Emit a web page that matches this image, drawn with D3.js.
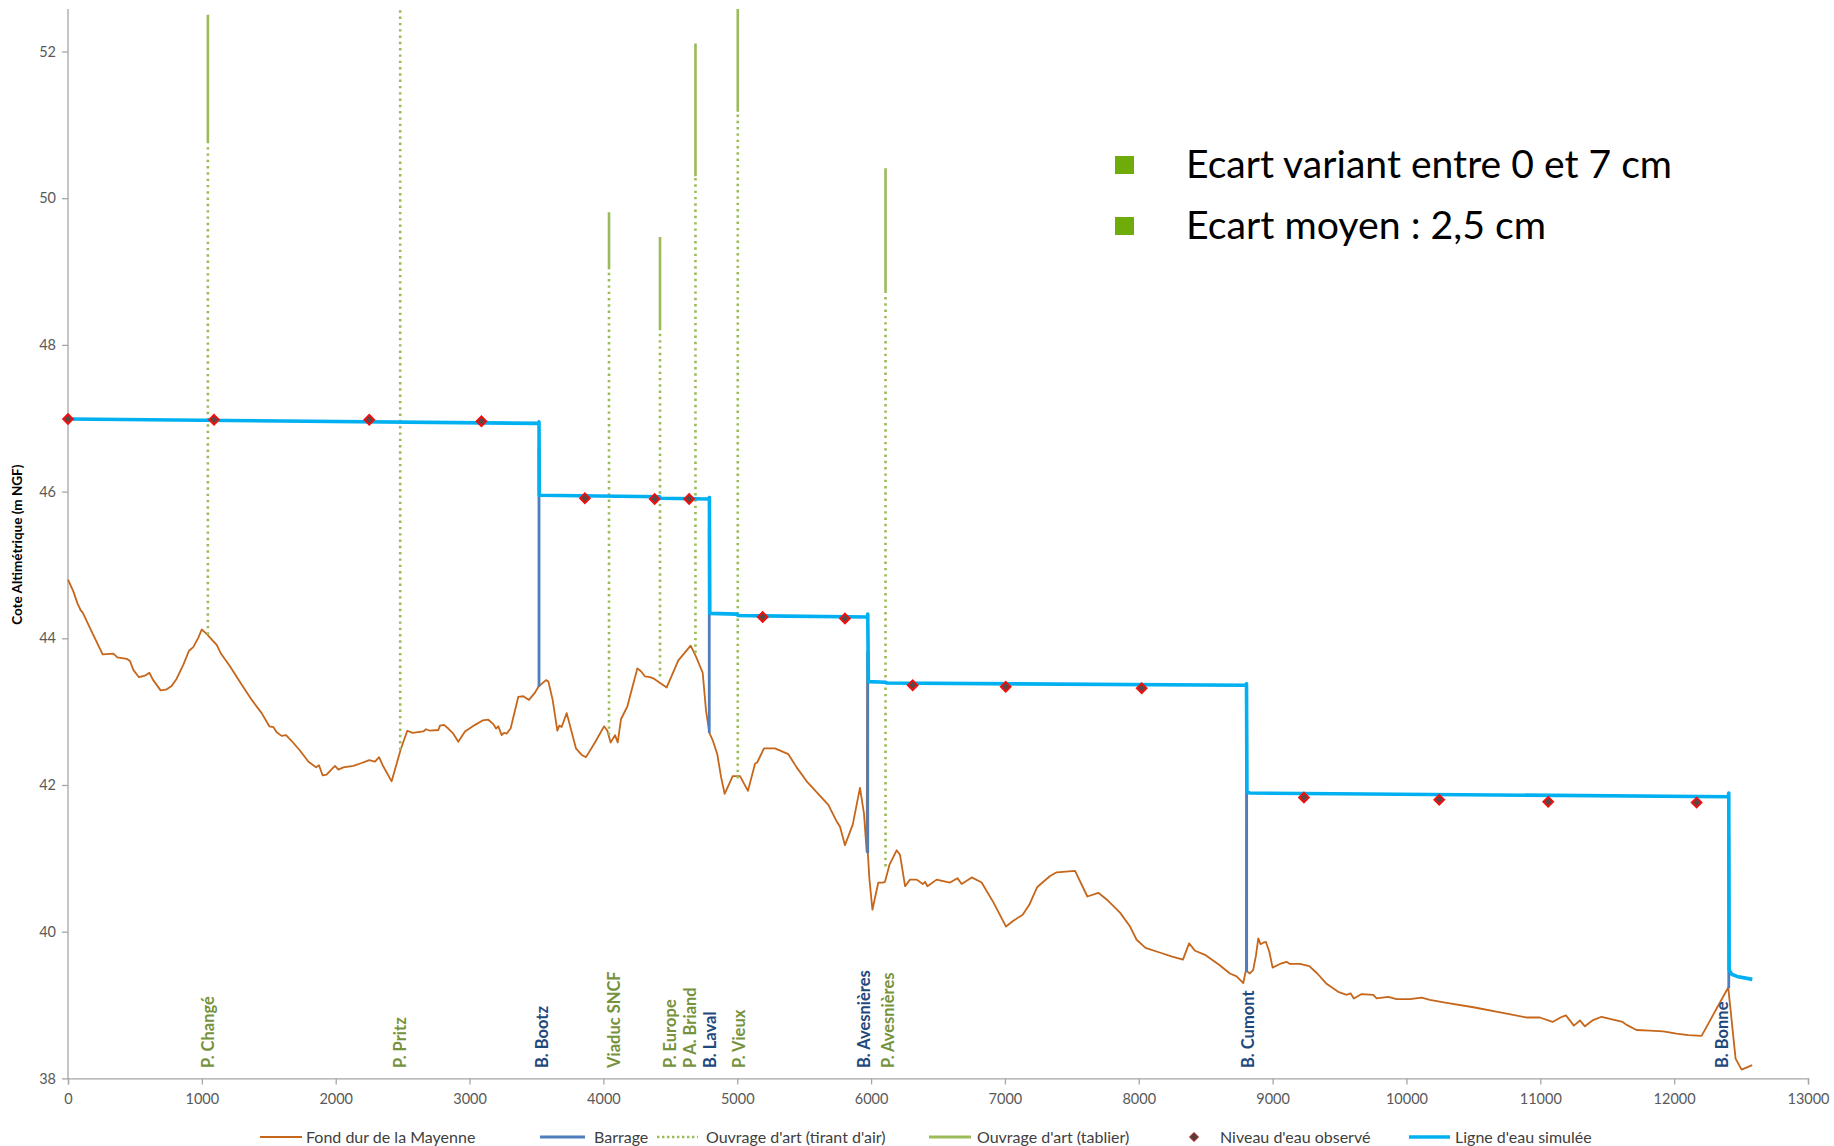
<!DOCTYPE html>
<html>
<head>
<meta charset="utf-8">
<script src="https://cdn.jsdelivr.net/npm/d3@7"></script>
<style>
  html, body { margin: 0; padding: 0; background: #fff; }
  svg { display: block; }
</style>
</head>
<body>
<svg id="chart" width="1834" height="1146"></svg>
<script>
// ---------------- DATA ----------------
// Fond dur de la Mayenne (bed profile): distance (m) / level (m NGF)
const bedDist = [0,40,70,95,110,177,259,339,369,438,463,488,530,575,608,633,692,732,774,812,862,904,936,974,999,1036,1066,1111,1140,1210,1297,1377,1447,1504,1534,1559,1596,1629,1666,1733,1795,1833,1853,1875,1903,1932,1962,1995,2020,2057,2132,2194,2251,2294,2324,2351,2418,2485,2535,2575,2655,2675,2705,2767,2779,2809,2841,2879,2916,2966,3041,3098,3140,3178,3198,3215,3240,3257,3277,3307,3364,3402,3444,3489,3514,3571,3589,3621,3656,3671,3688,3726,3795,3838,3870,3937,4005,4030,4054,4087,4107,4132,4179,4216,4254,4281,4311,4348,4378,4473,4560,4652,4692,4742,4767,4792,4817,4851,4879,4906,4966,5021,5080,5133,5150,5200,5282,5382,5444,5519,5681,5738,5768,5805,5863,5917,5947,5967,5972,5976,5987,6010,6054,6087,6104,6137,6191,6216,6254,6291,6341,6386,6403,6421,6490,6590,6645,6677,6752,6826,6914,7008,7063,7133,7183,7200,7242,7337,7387,7524,7616,7698,7760,7860,7935,7984,8050,8150,8250,8330,8376,8420,8500,8600,8681,8731,8781,8801,8804,8808,8830,8855,8875,8893,8910,8930,8950,8975,9000,9055,9104,9129,9204,9274,9334,9403,9490,9553,9582,9607,9665,9752,9777,9864,9926,10026,10113,10175,10300,10500,10700,10900,10997,11092,11151,11191,11251,11296,11333,11390,11458,11520,11615,11645,11719,11819,11918,12018,12105,12205,12404,12459,12504,12583];
const bedLevel = [44.80,44.64,44.48,44.38,44.35,44.09,43.78,43.79,43.74,43.72,43.69,43.57,43.47,43.49,43.53,43.44,43.29,43.30,43.35,43.45,43.64,43.83,43.88,44.01,44.12,44.06,44.00,43.91,43.80,43.62,43.37,43.15,42.98,42.80,42.79,42.72,42.67,42.68,42.61,42.47,42.32,42.27,42.24,42.27,42.13,42.14,42.20,42.26,42.21,42.24,42.26,42.30,42.34,42.32,42.38,42.27,42.05,42.48,42.74,42.71,42.73,42.76,42.74,42.75,42.81,42.82,42.77,42.70,42.59,42.73,42.82,42.88,42.89,42.83,42.77,42.80,42.68,42.71,42.70,42.77,43.20,43.21,43.16,43.26,43.34,43.43,43.41,43.16,42.74,42.81,42.79,42.98,42.50,42.41,42.38,42.58,42.80,42.74,42.58,42.68,42.58,42.90,43.07,43.33,43.59,43.55,43.48,43.47,43.45,43.33,43.70,43.90,43.75,43.53,43.01,42.71,42.61,42.42,42.11,41.88,42.12,42.12,41.92,42.29,42.31,42.50,42.50,42.42,42.24,42.05,41.73,41.52,41.43,41.18,41.46,41.96,41.61,41.09,43.82,41.07,40.73,40.30,40.67,40.67,40.68,40.91,41.11,41.05,40.62,40.71,40.71,40.65,40.68,40.62,40.71,40.67,40.73,40.65,40.74,40.67,40.40,40.07,40.15,40.23,40.37,40.44,40.61,40.76,40.81,40.83,40.48,40.53,40.44,40.26,40.07,39.89,39.78,39.72,39.66,39.62,39.84,39.74,39.68,39.55,39.43,39.39,39.30,39.48,42.89,39.46,39.43,39.48,39.67,39.91,39.83,39.85,39.86,39.73,39.51,39.56,39.59,39.56,39.56,39.53,39.43,39.29,39.18,39.14,39.16,39.09,39.15,39.14,39.09,39.11,39.08,39.08,39.10,39.07,39.03,38.97,38.90,38.83,38.83,38.77,38.83,38.86,38.72,38.79,38.71,38.79,38.84,38.81,38.77,38.73,38.66,38.65,38.64,38.61,38.59,38.58,39.24,38.27,38.12,38.18];

// Barrages
const barrageNames  = ["B. Bootz", "B. Laval", "B. Avesnières", "B. Cumont", "B. Bonne"];
const barrageDist   = [3519, 4791, 5975, 8806, 12408];
const barrageTop    = [46.60, 45.50, 43.82, 42.89, 41.30];
const barrageBottom = [43.34, 42.71, 41.07, 39.45, 39.23];

// Ouvrages d'art (bridges): bed level, deck underside (tirant d'air top), deck top
const bridgeNames  = ["P. Changé", "P. Pritz", "Viaduc SNCF", "P. Europe", "P A. Briand", "P. Vieux", "P. Avesnières"];
const bridgeDist   = [1045, 2482, 4042, 4423, 4688, 5004, 6108];
const bridgeBed    = [44.05, 42.48, 42.68, 43.48, 43.80, 42.09, 40.89];
const deckBottom   = [50.75, 53.20, 49.03, 48.20, 50.30, 51.18, 48.73];
const deckTop      = [52.50, 53.80, 49.81, 49.47, 52.11, 52.90, 50.41];

// Niveau d'eau observé
const obsDist  = [0, 1091, 2251, 3089, 3862, 4383, 4641, 5190, 5805, 6311, 7006, 8022, 9234, 10245, 11059, 12168];
const obsLevel = [46.99, 46.98, 46.98, 46.96, 45.91, 45.90, 45.90, 44.29, 44.27, 43.36, 43.34, 43.32, 41.83, 41.80, 41.77, 41.76];

// Ligne d'eau simulée
const simDist  = [0, 3515, 3519, 3521, 4420, 4425, 4789, 4792, 4795, 5000, 5005, 5972, 5975, 5980, 6110, 6115, 8802, 8805, 8808, 8830, 12405, 12408, 12411, 12430, 12470, 12584];
const simLevel = [46.99, 46.93, 46.95, 45.95, 45.93, 45.91, 45.90, 45.92, 44.34, 44.33, 44.31, 44.29, 44.33, 43.41, 43.40, 43.39, 43.36, 43.38, 41.91, 41.89, 41.84, 41.89, 39.48, 39.42, 39.39, 39.35];

// Vertical labels along the bottom
const labelText = ["P. Changé", "P. Pritz", "B. Bootz", "Viaduc SNCF", "P. Europe", "P A. Briand", "B. Laval", "P. Vieux", "B. Avesnières", "P. Avesnières", "B. Cumont", "B. Bonne"];
const labelDist = [1046, 2480, 3538, 4079, 4498, 4648, 4797, 5013, 5947, 6126, 8816, 12360];
const labelKind = ["o", "o", "b", "o", "o", "o", "b", "o", "b", "o", "b", "b"];

// Axis ticks
const xTicks = [0,1000,2000,3000,4000,5000,6000,7000,8000,9000,10000,11000,12000,13000];
const yTicks = [38,40,42,44,46,48,50,52];

// Legend & annotation texts
const legendLabels = ["Fond dur de la Mayenne", "Barrage", "Ouvrage d'art (tirant d'air)", "Ouvrage d'art (tablier)", "Niveau d'eau observé", "Ligne d'eau simulée"];
const notes = ["Ecart variant entre 0 et 7 cm", "Ecart moyen : 2,5 cm"];

// ---------------- STYLE ----------------
const C = {
  bed: "#C5661B", barrage: "#4F7EBE", green: "#9BBB59", cyan: "#00B0F0",
  obsFill: "#5a4848", obsStroke: "#EE1111", axis: "#A6A6A6", tick: "#595959",
  lblGreen: "#76923C", lblBlue: "#1F497D", note: "#6FAC0A"
};
const FONT = "Lato, 'Open Sans', 'DejaVu Sans', sans-serif";

const svg = d3.select("#chart");
const x = d3.scaleLinear().domain([0, 13000]).range([68, 1808]);
const y = d3.scaleLinear().domain([38, 52]).range([1078.4, 51.5]);
const plotTop = 9;

svg.append("defs").append("clipPath").attr("id", "plotclip")
  .append("rect").attr("x", 60).attr("y", plotTop).attr("width", 1770).attr("height", 1078.4 - plotTop + 2);

// ---------------- AXES ----------------
const gx = svg.append("g").attr("transform", `translate(0,${y(38)})`)
  .call(d3.axisBottom(x).tickValues(xTicks).tickSize(6).tickPadding(9).tickFormat(d3.format("d")));
gx.select(".domain").attr("stroke", C.axis).attr("stroke-width", 1.3);
gx.selectAll(".tick line").attr("stroke", C.axis).attr("stroke-width", 1.3);
gx.selectAll(".tick text").attr("fill", C.tick).style("font", `14.5px ${FONT}`);

const gy = svg.append("g").attr("transform", `translate(${x(0)},0)`)
  .call(d3.axisLeft(y).tickValues(yTicks).tickSize(6).tickPadding(6));
gy.select(".domain").remove();
gy.append("line").attr("x1", 0).attr("x2", 0).attr("y1", y(38)).attr("y2", plotTop)
  .attr("stroke", C.axis).attr("stroke-width", 1.3);
gy.selectAll(".tick line").attr("stroke", C.axis).attr("stroke-width", 1.3);
gy.selectAll(".tick text").attr("fill", C.tick).style("font", `14.5px ${FONT}`);

svg.append("text")
  .attr("transform", `translate(22,${(y(38)+plotTop)/2 + 1}) rotate(-90)`)
  .attr("text-anchor", "middle")
  .style("font", `bold 13.5px ${FONT}`).attr("fill", "#000")
  .text("Cote Altimétrique (m NGF)");

// ---------------- MARKS ----------------
const plot = svg.append("g").attr("clip-path", "url(#plotclip)");

// bed profile
const bedData = bedDist.map((d, i) => [d, bedLevel[i]]);
plot.append("path").datum(bedData)
  .attr("fill", "none").attr("stroke", C.bed).attr("stroke-width", 1.8).attr("stroke-linejoin", "round")
  .attr("d", d3.line().x(d => x(d[0])).y(d => y(d[1])));

// bridges: tirant d'air (dotted) and tablier (solid)
bridgeDist.forEach((d, i) => {
  plot.append("line")
    .attr("x1", x(d)).attr("x2", x(d)).attr("y1", y(bridgeBed[i])).attr("y2", y(deckBottom[i]))
    .attr("stroke", C.green).attr("stroke-width", 2.6).attr("stroke-dasharray", "2.4,3.9");
  plot.append("line")
    .attr("x1", x(d)).attr("x2", x(d)).attr("y1", y(deckBottom[i])).attr("y2", y(deckTop[i]))
    .attr("stroke", C.green).attr("stroke-width", 2.6);
});

// barrages
barrageDist.forEach((d, i) => {
  plot.append("line")
    .attr("x1", x(d)).attr("x2", x(d)).attr("y1", y(barrageBottom[i])).attr("y2", y(barrageTop[i]))
    .attr("stroke", C.barrage).attr("stroke-width", 2.8);
});

// simulated water line
const simData = simDist.map((d, i) => [d, simLevel[i]]);
plot.append("path").datum(simData)
  .attr("fill", "none").attr("stroke", C.cyan).attr("stroke-width", 3.6).attr("stroke-linejoin", "round")
  .attr("d", d3.line().x(d => x(d[0])).y(d => y(d[1])));

// observed levels (square diamonds)
const diamondPath = "M0,-4.8L4.8,0L0,4.8L-4.8,0Z";
plot.selectAll(".obs").data(obsDist.map((d, i) => [d, obsLevel[i]])).enter()
  .append("path").attr("class", "obs")
  .attr("transform", d => `translate(${x(d[0])},${y(d[1])})`)
  .attr("d", diamondPath)
  .attr("fill", C.obsFill).attr("stroke", C.obsStroke).attr("stroke-width", 2);

// vertical labels
labelText.forEach((t, i) => {
  svg.append("text")
    .attr("transform", `translate(${x(labelDist[i]) + 6},1068) rotate(-90)`)
    .attr("text-anchor", "start")
    .style("font", `bold 16.5px ${FONT}`)
    .attr("fill", labelKind[i] === "b" ? C.lblBlue : C.lblGreen)
    .text(t);
});

// ---------------- ANNOTATION ----------------
const noteY = [178, 239];
const noteW = [486, 360];
notes.forEach((t, i) => {
  svg.append("rect").attr("x", 1115).attr("y", noteY[i] - 22).attr("width", 19).attr("height", 18).attr("fill", C.note);
  const tx = svg.append("text").attr("x", 1186).attr("y", noteY[i])
    .style("font-family", FONT).style("font-size", "36px").attr("fill", "#000").text(t);
  const w = tx.node().getComputedTextLength();
  tx.style("font-size", (36 * noteW[i] / w).toFixed(2) + "px");
});

// ---------------- LEGEND ----------------
const lg = svg.append("g").style("font", `16px ${FONT}`);
const LY = 1137;
const legendSpec = [
  {x1: 260, x2: 302, tx: 306, kind: "line", color: C.bed, w: 2},
  {x1: 540, x2: 585, tx: 594, kind: "line", color: C.barrage, w: 3},
  {x1: 657, x2: 698, tx: 706, kind: "dot", color: C.green, w: 2.6},
  {x1: 929, x2: 971, tx: 977, kind: "line", color: C.green, w: 3},
  {x1: 1194, x2: 1194, tx: 1220, kind: "diamond"},
  {x1: 1409, x2: 1450, tx: 1455, kind: "line", color: C.cyan, w: 3.6}
];
legendSpec.forEach((s, i) => {
  if (s.kind === "diamond") {
    lg.append("path").attr("transform", `translate(${s.x1},${LY})`)
      .attr("d", "M0,-4.5L4.5,0L0,4.5L-4.5,0Z")
      .attr("fill", "#5a3b3b").attr("stroke", "#B22222").attr("stroke-width", 1);
  } else {
    const l = lg.append("line").attr("x1", s.x1).attr("x2", s.x2).attr("y1", LY).attr("y2", LY)
      .attr("stroke", s.color).attr("stroke-width", s.w);
    if (s.kind === "dot") l.attr("stroke-dasharray", "2.4,2.6");
  }
  lg.append("text").attr("x", s.tx).attr("y", LY).attr("dy", "0.35em").attr("fill", "#404040").text(legendLabels[i]);
});
</script>
</body>
</html>
